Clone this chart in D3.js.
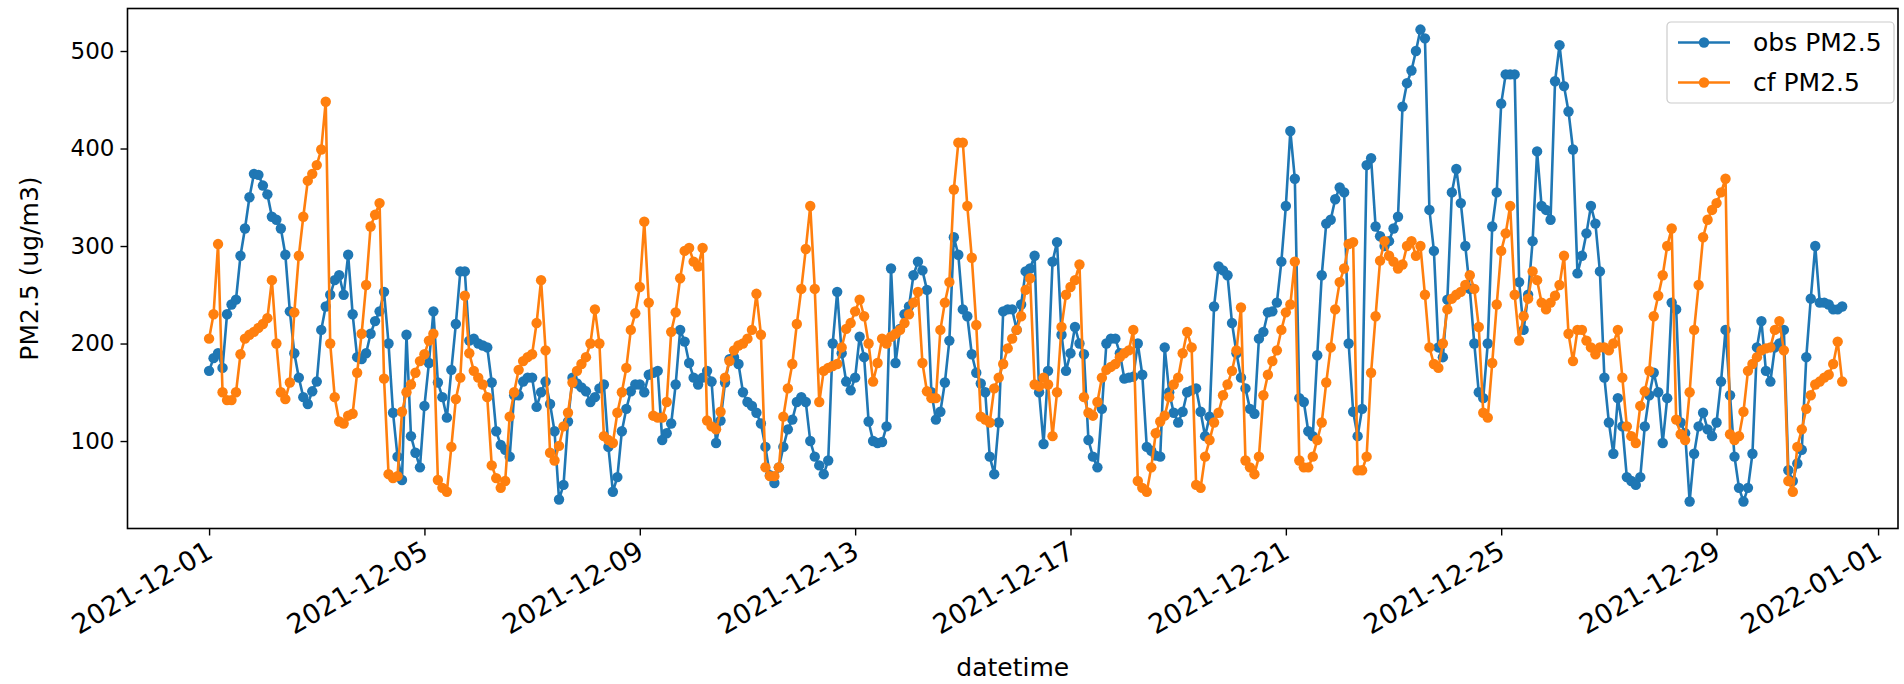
<!DOCTYPE html>
<html>
<head>
<meta charset="utf-8">
<script src="https://cdn.jsdelivr.net/npm/d3@7"></script>
<style>
  body { margin: 0; background: #ffffff; }
  svg { display: block; }
  text { font-family: "DejaVu Sans", sans-serif; fill: #000; }
</style>
</head>
<body>
<svg id="chart" width="1904" height="684"></svg>
<script>
// Two-hourly PM2.5 series starting 2021-12-01 00:00 (one row per day)
const startTime = "2021-12-01T00:00:00";
const stepHours = 2;

const obsPM25 = [
  172,185,190,175,230,240,245,290,318,350,374,373,
  362,353,330,327,318,291,233,190,165,145,138,151,
  161,214,238,250,265,270,250,291,230,186,184,190,
  210,223,233,253,200,129,84,60,209,105,88,73,
  136,180,233,160,145,124,173,220,274,274,203,205,
  200,198,196,160,110,96,91,84,147,147,161,165,
  165,135,150,161,138,110,40,55,120,165,159,155,
  151,140,145,154,158,94,48,63,110,133,151,158,
  158,150,168,170,172,101,108,118,158,214,202,180,
  165,158,165,172,161,98,121,160,184,186,179,150,
  140,136,129,118,94,65,57,73,94,112,122,140,
  145,140,100,84,75,66,80,200,253,190,161,152,
  165,207,186,120,100,98,99,115,277,180,215,230,
  238,270,284,275,255,150,122,130,160,203,309,291,
  235,228,189,170,159,150,84,66,119,233,235,235,
  214,240,274,277,290,150,97,172,284,304,209,172,
  190,217,200,189,101,84,73,133,200,205,205,190,
  164,165,166,200,168,94,90,85,84,196,150,129,
  119,130,150,152,154,130,105,125,238,279,275,270,
  221,190,165,154,133,128,205,212,232,233,242,284,
  341,418,369,144,140,110,105,188,270,323,327,348,
  360,355,200,130,105,133,383,390,320,310,300,305,
  318,330,443,467,480,500,522,513,337,295,196,186,
  245,355,379,344,300,256,200,150,144,200,320,355,
  446,476,476,476,263,214,250,305,397,341,337,327,
  469,506,464,438,399,272,290,313,341,323,274,165,
  119,87,144,115,63,59,55,63,115,147,170,150,
  98,144,242,235,119,108,38,87,115,129,112,105,
  119,161,214,147,84,52,38,52,87,196,223,172,
  161,196,200,214,70,59,77,91,186,246,300,242,
  242,240,235,235,238
];

const cfPM25 = [
  205,230,302,150,142,142,150,189,205,209,212,216,
  220,226,265,200,150,143,160,232,290,330,367,374,
  383,399,448,200,145,120,118,126,128,170,210,260,
  320,332,344,164,66,62,64,130,150,158,170,182,
  189,203,210,60,52,48,94,143,165,249,190,172,
  165,158,145,75,62,52,59,125,150,173,182,186,
  189,221,265,193,88,80,95,115,129,160,172,179,
  186,200,235,200,105,101,98,129,150,175,214,231,
  258,325,242,126,124,124,140,212,232,267,295,298,
  284,279,298,121,115,112,130,165,182,193,198,200,
  205,214,251,209,73,64,64,73,125,154,179,220,
  256,297,341,256,140,172,175,177,179,196,215,221,
  233,245,228,200,161,180,205,200,207,210,214,221,
  230,242,253,180,151,144,144,214,242,263,358,406,
  406,341,288,219,125,122,119,154,165,179,195,205,
  214,228,255,267,158,156,165,158,105,150,217,250,
  258,265,281,145,129,126,140,165,173,176,179,186,
  190,193,214,59,52,48,73,108,120,126,145,158,
  165,190,212,196,55,52,84,101,119,129,147,158,
  172,193,237,80,73,66,84,147,168,182,193,214,
  232,240,284,80,73,73,84,101,119,160,196,235,
  263,277,302,304,70,70,84,170,228,285,305,290,
  284,277,281,300,305,290,300,250,196,179,175,200,
  235,246,250,253,260,270,256,217,129,124,180,240,
  295,313,341,250,203,228,246,274,265,242,235,242,
  249,260,290,210,182,214,214,203,196,189,196,196,
  193,200,214,165,115,105,98,136,151,172,228,249,
  270,300,318,122,107,101,150,214,260,309,327,337,
  344,355,369,107,101,105,130,172,179,186,193,195,
  196,214,223,193,59,48,94,112,133,147,158,161,
  165,168,179,202,161
];

const seriesNames = ["obs PM2.5", "cf PM2.5"];
const seriesColors = ["#1f77b4", "#ff7f0e"];
const yTicks = [100, 200, 300, 400, 500];
const xTickDates = ["2021-12-01","2021-12-05","2021-12-09","2021-12-13",
                    "2021-12-17","2021-12-21","2021-12-25","2021-12-29","2022-01-01"];
const xLabel = "datetime";
const yLabel = "PM2.5 (ug/m3)";

// Axes frame and value ranges
const frame = { left: 127.5, top: 8.5, right: 1898, bottom: 528.5 };
const xExtent = ["2021-11-29T11:38:00", "2022-01-01T08:53:00"];
const yExtent = [10.3, 543.6];

const parseTime = d3.utcParse("%Y-%m-%dT%H:%M:%S");
const parseDay = d3.utcParse("%Y-%m-%d");
const t0 = parseTime(startTime);
const timeAt = i => d3.utcHour.offset(t0, i * stepHours);

const x = d3.scaleUtc().domain(xExtent.map(parseTime)).range([frame.left, frame.right]);
const y = d3.scaleLinear().domain(yExtent).range([frame.bottom, frame.top]);

const svg = d3.select("#chart");
const fontSize = 25;
const yTickFont = 23;
const xTickFont = 27;
const markerR = 5.2;
const lineW = 2.6;

const series = [obsPM25, cfPM25].map((vals, k) => ({
  name: seriesNames[k],
  color: seriesColors[k],
  points: vals.map((v, i) => ({ t: timeAt(i), v }))
}));

const plot = svg.append("g");
const line = d3.line().x(d => x(d.t)).y(d => y(d.v));

series.forEach(s => {
  const g = plot.append("g");
  g.append("path")
    .datum(s.points)
    .attr("fill", "none")
    .attr("stroke", s.color)
    .attr("stroke-width", lineW)
    .attr("stroke-linejoin", "round")
    .attr("d", line);
  g.selectAll("circle")
    .data(s.points)
    .join("circle")
    .attr("cx", d => x(d.t))
    .attr("cy", d => y(d.v))
    .attr("r", markerR)
    .attr("fill", s.color);
});

// Frame
svg.append("rect")
  .attr("x", frame.left).attr("y", frame.top)
  .attr("width", frame.right - frame.left)
  .attr("height", frame.bottom - frame.top)
  .attr("fill", "none").attr("stroke", "#000").attr("stroke-width", 1.6);

// Y axis
const yAxis = d3.axisLeft(y).tickValues(yTicks).tickSize(7).tickPadding(6);
const gy = svg.append("g").attr("transform", `translate(${frame.left},0)`).call(yAxis);
gy.select(".domain").remove();
gy.selectAll(".tick line").attr("stroke", "#000").attr("stroke-width", 1.4);
gy.selectAll(".tick text").attr("font-size", yTickFont).attr("font-family", "DejaVu Sans").attr("fill", "#000");

// X axis
const xAxis = d3.axisBottom(x).tickValues(xTickDates.map(parseDay))
  .tickFormat(d3.utcFormat("%Y-%m-%d")).tickSize(7).tickPadding(4);
const gx = svg.append("g").attr("transform", `translate(0,${frame.bottom})`).call(xAxis);
gx.select(".domain").remove();
gx.selectAll(".tick line").attr("stroke", "#000").attr("stroke-width", 1.4);
gx.selectAll(".tick text")
  .attr("font-size", xTickFont).attr("font-family", "DejaVu Sans").attr("fill", "#000")
  .attr("text-anchor", "end")
  .attr("dy", null).attr("y", 0)
  .attr("transform", "translate(5,28) rotate(-30)");

// Axis titles
svg.append("text")
  .attr("x", (frame.left + frame.right) / 2).attr("y", 676)
  .attr("text-anchor", "middle").attr("font-size", fontSize)
  .text(xLabel);
svg.append("text")
  .attr("transform", `translate(38,${(frame.top + frame.bottom) / 2}) rotate(-90)`)
  .attr("text-anchor", "middle").attr("font-size", fontSize)
  .text(yLabel);

// Legend
const legend = svg.append("g").attr("transform", "translate(1667,22)");
legend.append("rect")
  .attr("width", 227).attr("height", 81).attr("rx", 4)
  .attr("fill", "#fff").attr("fill-opacity", 0.8)
  .attr("stroke", "#cccccc").attr("stroke-width", 1.2);
series.forEach((s, k) => {
  const gy0 = 20.5 + k * 40;
  const row = legend.append("g").attr("transform", `translate(0,${gy0})`);
  row.append("line").attr("x1", 11).attr("x2", 63).attr("y1", 0).attr("y2", 0)
    .attr("stroke", s.color).attr("stroke-width", lineW);
  row.append("circle").attr("cx", 37).attr("cy", 0).attr("r", markerR).attr("fill", s.color);
  row.append("text").attr("x", 86).attr("y", 0).attr("dy", "0.35em")
    .attr("font-size", fontSize).text(s.name);
});
</script>
</body>
</html>
